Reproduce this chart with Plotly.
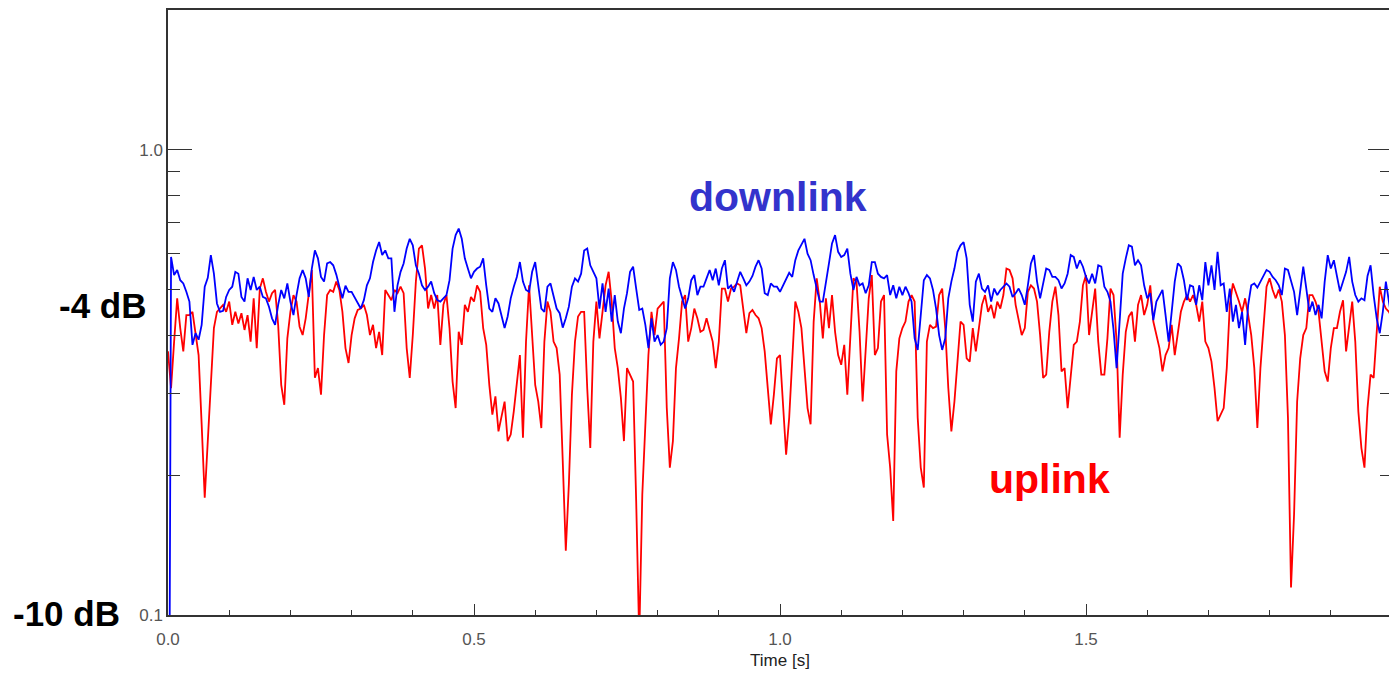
import numpy as np
import plotly.graph_objects as go

# Received power ratio, in dB, one value per 5 ms sample
sample_step_s = 0.005

downlink_db = [
    -20.0, -2.30, -2.69, -2.58, -2.80, -2.87, -3.05, -3.26, -4.19, -3.94,
    -4.08, -3.76, -2.94, -2.75, -2.26, -2.66, -3.30, -3.48, -3.46, -3.16,
    -3.01, -2.94, -2.62, -2.66, -3.16, -3.26, -2.76, -3.01, -2.73, -3.01,
    -2.94, -3.16, -3.19, -3.37, -3.62, -3.76, -3.33, -3.01, -3.19, -2.87,
    -3.26, -3.55, -3.12, -2.76, -2.58, -2.76, -3.16, -2.55, -2.16, -2.33,
    -2.73, -2.83, -2.44, -2.41, -2.48, -2.68, -2.94, -3.19, -2.92, -3.05,
    -3.05, -3.16, -3.30, -3.41, -3.23, -2.91, -2.76, -2.41, -2.16, -1.98,
    -2.26, -2.16, -2.33, -2.33, -3.48, -2.91, -2.62, -2.44, -2.12, -1.91,
    -2.05, -2.48, -2.66, -2.91, -3.01, -2.94, -2.83, -3.08, -3.23, -3.26,
    -3.19, -3.12, -2.80, -2.12, -1.83, -1.69, -1.91, -2.33, -2.55, -2.76,
    -2.62, -2.55, -2.51, -2.33, -2.91, -3.41, -3.48, -3.19, -3.30, -3.55,
    -3.83, -3.58, -3.19, -2.94, -2.73, -2.41, -2.83, -3.01, -3.05, -2.62,
    -2.41, -2.91, -3.41, -3.48, -2.94, -2.87, -3.12, -3.41, -3.51, -3.82,
    -3.62, -3.37, -2.94, -2.76, -2.83, -2.66, -2.16, -2.12, -2.48, -2.62,
    -2.76, -3.41, -2.87, -3.48, -2.98, -3.69, -3.12, -3.69, -3.94, -3.41,
    -3.08, -2.62, -2.51, -2.98, -3.44, -3.41, -3.76, -4.26, -3.62, -4.12,
    -3.98, -4.19, -4.12, -3.83, -2.76, -2.41, -2.58, -2.94, -3.19, -3.41,
    -3.19, -2.80, -2.69, -3.12, -2.94, -2.94, -2.76, -2.58, -2.80, -2.55,
    -2.91, -2.55, -2.37, -2.98, -2.91, -3.05, -2.83, -2.62, -2.76, -2.91,
    -2.83, -2.71, -2.51, -2.37, -2.55, -3.08, -3.12, -2.87, -2.94, -2.94,
    -3.05, -2.91, -2.80, -2.64, -2.73, -2.37, -2.16, -2.05, -1.91, -2.23,
    -2.37, -2.69, -2.98, -3.26, -3.26, -2.80, -2.44, -2.01, -1.83, -2.19,
    -2.30, -2.26, -2.12, -2.66, -3.01, -2.73, -2.91, -2.87, -3.08, -2.91,
    -2.41, -2.41, -2.66, -2.73, -2.76, -2.69, -3.12, -2.91, -3.19, -2.94,
    -3.12, -2.94, -3.08, -3.26, -4.05, -4.30, -3.62, -2.80, -2.69, -2.76,
    -3.01, -3.41, -3.98, -4.30, -4.05, -3.19, -2.83, -2.55, -2.19, -2.05,
    -1.98, -2.33, -3.33, -3.69, -2.83, -2.66, -2.98, -3.05, -2.91, -3.26,
    -2.98, -3.12, -3.01, -2.94, -2.87, -2.94, -3.16, -3.08, -2.98, -3.12,
    -3.33, -2.91, -2.44, -2.26, -2.83, -3.19, -2.87, -2.55, -2.58, -2.73,
    -2.73, -2.80, -2.98, -2.87, -2.66, -2.26, -2.30, -2.55, -2.37, -2.51,
    -2.73, -2.87, -2.66, -2.87, -2.48, -2.51, -2.94, -3.05, -3.26, -3.87,
    -4.69, -3.62, -2.66, -2.33, -2.05, -2.08, -2.48, -2.37, -2.48, -2.91,
    -3.19, -3.08, -3.66, -3.26, -3.12, -3.01, -3.55, -4.12, -3.48, -2.83,
    -2.44, -2.51, -2.80, -3.23, -2.91, -2.94, -3.33, -2.91, -3.23, -2.41,
    -2.91, -2.48, -3.01, -2.19, -2.91, -2.87, -3.48, -2.98, -3.69, -3.33,
    -3.83, -3.48, -4.19, -3.33, -2.91, -2.87, -2.96, -2.83, -2.71, -2.58,
    -2.62, -2.73, -2.80, -2.91, -3.12, -2.55, -2.58, -2.80, -3.05, -3.55,
    -2.98, -2.51, -2.98, -3.48, -3.26, -3.55, -3.33, -3.62, -2.83, -2.26,
    -2.55, -2.37, -2.71, -3.04, -2.83, -2.62, -2.30, -2.83, -3.12, -3.26,
    -3.19, -3.23, -2.71, -2.48, -3.12, -3.62, -3.94, -3.48, -2.83, -3.26,
    -3.69,
]

uplink_db = [
    -4.33, -5.12, -4.12, -3.19, -3.83, -4.33, -3.55, -3.55, -3.48, -3.91,
    -4.41, -5.90, -7.48, -6.26, -4.90, -3.83, -3.48, -3.41, -3.33, -3.48,
    -3.26, -3.76, -3.48, -3.73, -3.51, -3.87, -3.55, -4.12, -3.19, -4.26,
    -2.98, -2.76, -3.05, -3.26, -3.08, -3.01, -3.76, -5.05, -5.48, -4.05,
    -3.48, -3.12, -3.26, -3.80, -3.98, -3.62, -3.12, -2.58, -4.90, -4.69,
    -5.26, -3.98, -3.12, -3.01, -3.05, -2.83, -3.01, -3.48, -4.26, -4.58,
    -3.98, -3.62, -3.44, -3.41, -3.33, -3.55, -3.98, -3.76, -4.26, -3.91,
    -4.41, -3.01, -3.12, -3.23, -3.01, -3.08, -2.94, -3.08, -4.26, -4.90,
    -3.98, -2.83, -2.12, -2.05, -2.55, -3.41, -3.12, -3.41, -3.12, -4.19,
    -3.33, -3.12, -3.83, -4.98, -5.55, -3.91, -4.19, -3.33, -3.48, -3.16,
    -3.26, -2.91, -3.05, -3.83, -4.19, -5.05, -5.69, -5.30, -6.05, -5.69,
    -5.41, -6.26, -6.12, -5.62, -4.98, -4.41, -6.19, -4.12, -2.91, -3.98,
    -5.05, -5.41, -5.98, -4.12, -3.26, -3.48, -4.12, -4.26, -4.83, -6.69,
    -8.62, -7.19, -5.26, -4.12, -3.58, -3.48, -3.48, -5.12, -6.41, -4.12,
    -3.26, -4.05, -3.48, -2.91, -2.62, -3.26, -4.26, -4.69, -5.33, -6.26,
    -4.69, -4.83, -4.98, -7.55, -10.5, -7.41, -5.76, -4.41, -3.48, -3.98,
    -3.41, -3.33, -3.26, -5.55, -6.83, -6.26, -4.69, -4.05, -3.26, -3.12,
    -4.12, -3.83, -3.41, -3.62, -3.91, -3.87, -3.62, -3.87, -4.12, -4.69,
    -4.12, -2.98, -2.98, -3.26, -2.98, -2.94, -2.87, -2.91, -3.48, -3.94,
    -3.51, -3.44, -3.55, -3.62, -3.83, -4.33, -5.12, -5.90, -5.26, -4.48,
    -4.41, -5.41, -6.55, -5.76, -4.55, -3.26, -3.48, -3.83, -4.69, -5.55,
    -5.90, -3.69, -2.76, -3.26, -4.05, -3.19, -3.83, -3.12, -3.91, -4.41,
    -4.62, -4.19, -5.26, -4.12, -2.76, -2.83, -3.91, -5.41, -4.41, -3.19,
    -2.69, -4.41, -4.26, -3.26, -3.12, -6.12, -6.83, -7.98, -4.76, -4.05,
    -3.83, -3.69, -3.26, -3.12, -3.26, -5.76, -6.83, -7.26, -4.12, -3.76,
    -3.83, -3.80, -3.12, -2.98, -3.83, -5.12, -6.05, -5.41, -4.55, -3.69,
    -3.76, -4.48, -4.55, -3.83, -4.33, -3.76, -3.33, -3.12, -3.48, -3.33,
    -3.62, -3.26, -3.41, -3.12, -2.55, -2.58, -2.76, -3.33, -3.69, -3.98,
    -3.83, -3.05, -2.91, -2.98, -3.26, -3.98, -4.90, -4.83, -3.91, -3.26,
    -2.94, -3.55, -4.76, -4.69, -5.55, -4.90, -4.19, -4.12, -3.69, -2.91,
    -2.69, -3.98, -3.41, -2.98, -4.12, -4.83, -4.83, -4.05, -2.98, -3.12,
    -4.12, -6.19, -4.83, -3.91, -3.58, -3.48, -4.12, -3.33, -3.12, -3.55,
    -3.33, -2.91, -3.69, -3.98, -4.26, -4.76, -4.41, -4.26, -3.76, -4.41,
    -3.91, -3.48, -3.26, -3.12, -3.26, -3.12, -3.33, -3.69, -3.26, -4.12,
    -4.26, -4.55, -5.12, -5.83, -5.69, -5.55, -4.69, -3.33, -2.87, -3.05,
    -3.26, -3.48, -3.19, -3.55, -3.98, -4.69, -5.98, -4.69, -3.76, -2.94,
    -2.76, -3.01, -3.19, -3.00, -3.26, -3.98, -5.76, -9.41, -7.83, -5.41,
    -4.48, -3.98, -3.83, -3.12, -3.12, -3.26, -3.48, -4.12, -4.76, -4.98,
    -4.26, -3.83, -3.83, -3.48, -3.23, -4.33, -3.83, -3.26, -4.12, -5.62,
    -6.41, -6.83, -5.55, -4.83, -4.90, -3.98, -2.94, -3.26, -3.41, -3.48,
    -3.62,
]

x_tick_vals = [0.0, 0.5, 1.0, 1.5]
x_tick_text = ["0.0", "0.5", "1.0", "1.5"]
y_tick_vals = [0.1, 1.0]
y_tick_text = ["0.1", "1.0"]
y_minor_vals = [0.2, 0.3, 0.4, 0.5, 0.6, 0.7, 0.8, 0.9, 2.0]

time_s = np.round(np.arange(len(downlink_db)) * sample_step_s, 3)
downlink = 10 ** (np.array(downlink_db) / 10)
uplink = 10 ** (np.array(uplink_db) / 10)

fig = go.Figure()
fig.add_trace(go.Scatter(x=time_s, y=uplink, mode="lines", name="uplink",
                         line=dict(color="#ff0000", width=1.8)))
fig.add_trace(go.Scatter(x=time_s, y=downlink, mode="lines", name="downlink",
                         line=dict(color="#0000ff", width=1.8)))

axis_font = dict(family="Liberation Sans, Arial", size=17, color="#555555")
big_font = "Arial, Liberation Sans"

# the page body keeps its default 8px margin, so the figure is a little smaller than the window
fig.update_layout(
    width=1389,
    height=669,
    margin=dict(l=160, r=5, t=0, b=62),
    paper_bgcolor="white",
    plot_bgcolor="white",
    showlegend=False,
    xaxis=dict(
        range=[0, 2.0],
        tickvals=x_tick_vals,
        ticktext=x_tick_text,
        ticks="inside",
        ticklen=11,
        tickcolor="#333333",
        ticklabelstandoff=8,
        showline=True,
        linecolor="#333333",
        linewidth=1.5,
        mirror=True,
        showgrid=False,
        zeroline=False,
        tickfont=axis_font,
        title=dict(text="Time [s]", font=dict(family="Liberation Sans, Arial", size=17, color="#222222"), standoff=6),
        minor=dict(dtick=0.1, ticks="inside", ticklen=5, tickcolor="#333333", showgrid=False),
    ),
    yaxis=dict(
        type="log",
        range=[-1, np.log10(2.0)],
        tickvals=y_tick_vals,
        ticktext=y_tick_text,
        ticks="inside",
        ticklen=24,
        tickcolor="#333333",
        showline=True,
        linecolor="#333333",
        linewidth=1.5,
        mirror="allticks",
        showgrid=False,
        zeroline=False,
        tickfont=axis_font,
        minor=dict(tickvals=y_minor_vals, ticks="inside", ticklen=12, tickcolor="#333333", showgrid=False),
    ),
    annotations=[
        dict(text="<b>downlink</b>", x=0.498, y=0.691, xref="paper", yref="paper",
             xanchor="center", yanchor="middle", showarrow=False,
             font=dict(family=big_font, size=41, color="#3333cc")),
        dict(text="<b>uplink</b>", x=0.7198, y=0.225, xref="paper", yref="paper",
             xanchor="center", yanchor="middle", showarrow=False,
             font=dict(family=big_font, size=41, color="#ff0000")),
        dict(text="<b>-4 dB</b>", x=-0.0531, y=0.512, xref="paper", yref="paper",
             xanchor="center", yanchor="middle", showarrow=False,
             font=dict(family=big_font, size=35, color="#000000")),
        dict(text="<b>-10 dB</b>", x=-0.0833, y=0.003, xref="paper", yref="paper",
             xanchor="center", yanchor="middle", showarrow=False,
             font=dict(family=big_font, size=35, color="#000000")),
    ],
)

fig.write_html("out.html")
